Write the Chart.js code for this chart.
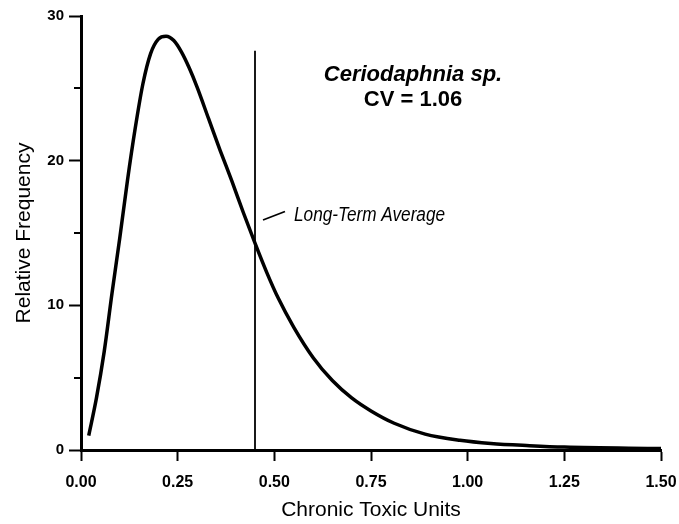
<!DOCTYPE html>
<html lang="en">
<head>
  <meta charset="UTF-8">
  <title>Ceriodaphnia sp. - Chronic Toxic Units</title>
  <script src="https://cdn.jsdelivr.net/npm/chart.js"></script>
  <style>
    html, body { margin: 0; padding: 0; background: #fff; }
    canvas { display: block; }
  </style>
</head>
<body>
  <canvas id="cvChart" width="679" height="524"></canvas>

  <script>
    // distribution curve: chronic toxic units vs relative frequency
    const toxicUnits = [0.02, 0.04, 0.06, 0.08, 0.10, 0.12, 0.14, 0.16, 0.18, 0.20, 0.22, 0.24, 0.26, 0.28,
                        0.30, 0.33, 0.36, 0.39, 0.42, 0.45, 0.48, 0.51, 0.55, 0.60, 0.65, 0.70, 0.75,
                        0.81, 0.89, 0.98, 1.06, 1.16, 1.25, 1.50];
    const relFrequency = [1.0, 3.6, 6.8, 10.8, 14.6, 18.6, 22.2, 25.3, 27.4, 28.4, 28.6, 28.3, 27.5, 26.4,
                          25.1, 22.9, 20.7, 18.6, 16.4, 14.3, 12.3, 10.5, 8.5, 6.4, 4.8, 3.6, 2.7,
                          1.85, 1.1, 0.67, 0.45, 0.3, 0.2, 0.1];

    // long-term average marker
    const averageTU = 0.45;
    const averageLineTop = 27.6;

    const xTickLabels = ['0.00', '0.25', '0.50', '0.75', '1.00', '1.25', '1.50'];
    const yTickLabels = ['0', '10', '20', '30'];
    const minorYTicks = [5, 15, 25];

    const speciesName = 'Ceriodaphnia sp.';
    const cvLabel = 'CV = 1.06';
    const averageLabel = 'Long-Term Average';

    const FONT = '"Liberation Sans", Arial, Helvetica, sans-serif';

    const curvePoints = toxicUnits.map((x, i) => ({ x: x, y: relFrequency[i] }));
    const averagePoints = [{ x: averageTU, y: 0 }, { x: averageTU, y: averageLineTop }];

    // minor ticks, species label and the average callout
    const annotations = {
      id: 'annotations',
      afterDraw(chart) {
        const { ctx, scales: { x, y } } = chart;
        ctx.save();
        ctx.strokeStyle = '#000';
        ctx.fillStyle = '#000';

        ctx.lineWidth = 2;
        minorYTicks.forEach(v => {
          const py = Math.round(y.getPixelForValue(v));
          ctx.beginPath();
          ctx.moveTo(x.left - 7, py);
          ctx.lineTo(x.left, py);
          ctx.stroke();
        });

        ctx.textAlign = 'center';
        ctx.textBaseline = 'middle';
        ctx.font = 'italic bold 22px ' + FONT;
        ctx.fillText(speciesName, 413, 75);
        ctx.font = 'bold 22px ' + FONT;
        ctx.fillText(cvLabel, 413, 100);

        const lx = x.getPixelForValue(averageTU);
        ctx.lineWidth = 1.8;
        ctx.beginPath();
        ctx.moveTo(lx + 8, 220);
        ctx.lineTo(lx + 30, 211.5);
        ctx.stroke();

        ctx.textAlign = 'left';
        ctx.font = 'italic 20px ' + FONT;
        ctx.translate(lx + 39, 215);
        ctx.scale(0.86, 1);
        ctx.fillText(averageLabel, 0, 0);
        ctx.restore();
      }
    };

    new Chart(document.getElementById('cvChart'), {
      type: 'line',
      data: {
        datasets: [{
          data: curvePoints,
          borderColor: '#000',
          borderWidth: 3.5,
          pointRadius: 0,
          cubicInterpolationMode: 'monotone',
          fill: false
        }, {
          data: averagePoints,
          borderColor: '#000',
          borderWidth: 1.8,
          pointRadius: 0,
          fill: false
        }]
      },
      options: {
        responsive: false,
        animation: false,
        events: [],
        layout: { padding: { top: 16, right: 18, left: 0, bottom: 0 } },
        plugins: {
          legend: { display: false },
          tooltip: { enabled: false }
        },
        scales: {
          x: {
            type: 'linear',
            min: 0,
            max: 1.5,
            afterFit(scale) {
              scale.height = 74;
              scale.paddingLeft = 0;
              scale.paddingRight = 0;
            },
            border: { display: true, color: '#000', width: 3 },
            grid: { drawOnChartArea: false, drawTicks: true, tickLength: 11, tickColor: '#000', tickWidth: 2 },
            ticks: {
              stepSize: 0.25,
              maxRotation: 0,
              autoSkip: false,
              color: '#000',
              padding: 12,
              font: { family: FONT, size: 16, weight: 'bold' },
              callback: v => xTickLabels[Math.round(v / 0.25)]
            },
            title: {
              display: true,
              text: 'Chronic Toxic Units',
              color: '#000',
              font: { family: FONT, size: 21 },
              padding: { top: 0, bottom: 1 }
            }
          },
          y: {
            min: 0,
            max: 30,
            afterFit(scale) {
              scale.width = 81;
              scale.paddingTop = 0;
              scale.paddingBottom = 0;
            },
            border: { display: true, color: '#000', width: 3 },
            grid: { drawOnChartArea: false, drawTicks: true, tickLength: 12, tickColor: '#000', tickWidth: 2 },
            ticks: {
              stepSize: 10,
              color: '#000',
              padding: 5,
              font: { family: FONT, size: 15, weight: 'bold' },
              callback: v => yTickLabels[Math.round(v / 10)]
            },
            title: {
              display: true,
              text: 'Relative Frequency',
              color: '#000',
              font: { family: FONT, size: 21 },
              padding: { top: 12, bottom: 0 }
            }
          }
        }
      },
      plugins: [annotations]
    });
  </script>
</body>
</html>
